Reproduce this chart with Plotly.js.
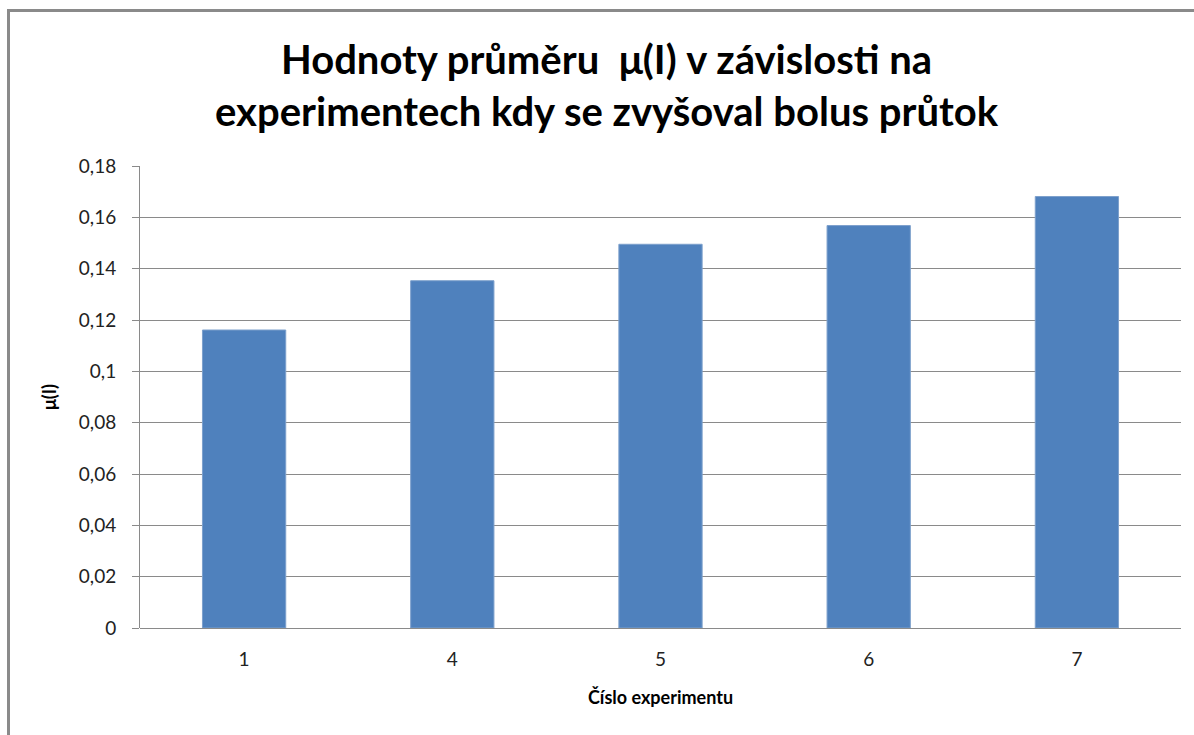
<!DOCTYPE html>
<html>
<head>
<meta charset="utf-8">
<script src="https://cdn.plot.ly/plotly-3.0.1.min.js"></script>
<style>
html,body{margin:0;padding:0;background:#fff;}
#wrap{position:absolute;left:0;top:0;width:1194px;height:735px;}
#frame{position:absolute;left:7px;top:9px;width:1200px;height:740px;border-left:3px solid #8a8a8a;border-top:3px solid #8a8a8a;pointer-events:none;}
#chart{position:absolute;left:0;top:0;width:1194px;height:735px;}
</style>
</head>
<body>
<div id="wrap">
<div id="chart"></div>
<div id="frame"></div>
</div>
<script>
const categories = ["1", "4", "5", "6", "7"];
const meanValues = [0.1161, 0.1353, 0.1495, 0.1568, 0.1681];
const yTickVals = [0, 0.02, 0.04, 0.06, 0.08, 0.1, 0.12, 0.14, 0.16, 0.18];
const yTickText = ["0", "0,02", "0,04", "0,06", "0,08", "0,1", "0,12", "0,14", "0,16", "0,18"];

const FONT = 'Lato, "Open Sans", "Noto Sans", sans-serif';

const trace = {
  type: 'bar',
  x: categories,
  y: meanValues,
  marker: {color: '#4F81BD', line: {color: '#7DA0CC', width: 1}},
  hoverinfo: 'x+y'
};

const layout = {
  width: 1194,
  height: 735,
  paper_bgcolor: '#ffffff',
  plot_bgcolor: '#ffffff',
  margin: {l: 140, r: 13, t: 166, b: 107, pad: 0},
  separators: ', ',
  bargap: 0.6,
  showlegend: false,
  title: {
    text: '<b>Hodnoty průměru  μ(I) v závislosti na<br>experimentech kdy se zvyšoval bolus průtok</b>',
    font: {family: FONT, size: 40, color: '#000000'},
    x: 0.508, xref: 'container', xanchor: 'center',
    y: 0.9, yref: 'container', yanchor: 'middle'
  },
  xaxis: {
    type: 'category',
    tickfont: {family: FONT, size: 19, color: '#222222'},
    ticks: '',
    ticklabelstandoff: 18,
    showline: false,
    showgrid: false,
    zeroline: false,
    title: {text: '<b>Číslo experimentu</b>', font: {family: FONT, size: 18, color: '#000000'}, standoff: 22}
  },
  yaxis: {
    range: [0, 0.18],
    tickvals: yTickVals,
    ticktext: yTickText,
    tickfont: {family: FONT, size: 19, color: '#222222'},
    ticks: 'outside',
    ticklen: 7,
    tickcolor: '#8a8a8a',
    ticklabelstandoff: 12,
    showline: true,
    linecolor: '#8a8a8a',
    linewidth: 1,
    showgrid: true,
    gridcolor: '#8a8a8a',
    gridwidth: 1,
    zeroline: true,
    zerolinecolor: '#8a8a8a',
    zerolinewidth: 1,
    title: {text: '<b>μ(I)</b>', font: {family: FONT, size: 18, color: '#000000'}, standoff: 17}
  }
};

Plotly.newPlot('chart', [trace], layout, {displayModeBar: false, staticPlot: true});
</script>
</body>
</html>
